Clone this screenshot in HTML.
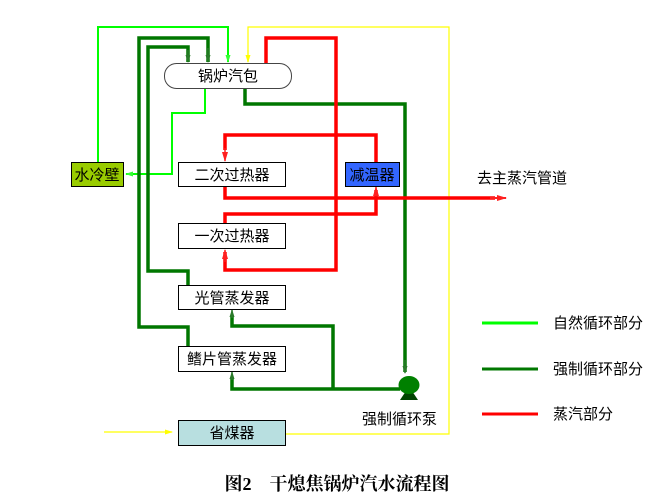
<!DOCTYPE html>
<html><head><meta charset="utf-8"><style>
body{margin:0;background:#fff}
svg{display:block}
text{font-family:"Liberation Sans","Noto Sans CJK SC",sans-serif;font-size:15px;fill:#000}
</style></head><body>
<svg width="672" height="499" viewBox="0 0 672 499" xmlns="http://www.w3.org/2000/svg">
<defs>
<marker id="ag" markerWidth="8" markerHeight="8" refX="7" refY="4" orient="auto" markerUnits="userSpaceOnUse"><path d="M0,1.5 L8,4 L0,6.5Z" fill="#33ff33"/></marker>
<marker id="ad" markerWidth="8" markerHeight="8" refX="7" refY="4" orient="auto" markerUnits="userSpaceOnUse"><path d="M0,1.5 L8,4 L0,6.5Z" fill="#2a7a2a"/></marker>
<marker id="ar" markerWidth="10" markerHeight="8" refX="9" refY="4" orient="auto" markerUnits="userSpaceOnUse"><path d="M0,1 L10,4 L0,7Z" fill="#ff2020"/></marker>
<marker id="ay" markerWidth="8" markerHeight="8" refX="7" refY="4" orient="auto" markerUnits="userSpaceOnUse"><path d="M0,1.5 L8,4 L0,6.5Z" fill="#ffff00"/></marker>
</defs>
<g fill="none">
<polyline points="248,62 248,27 449,27 449,434 285,434" stroke="#ffff00" stroke-width="1.2"/>
<line x1="248" y1="50" x2="248" y2="62" stroke="#ffff00" stroke-width="1.2" marker-end="url(#ay)"/>
<line x1="104" y1="432" x2="172" y2="432" stroke="#ffff00" stroke-width="1.2" marker-end="url(#ay)"/>
<polyline points="98,162 98,27 228,27 228,62" stroke="#00ff00" stroke-width="2" marker-end="url(#ag)"/>
<polyline points="205,88 205,113 172,113 172,174 126,174" stroke="#00ff00" stroke-width="2" marker-end="url(#ag)"/>
<polyline points="188,348 188,327 139,327 139,38 208,38 208,62" stroke="#007700" stroke-width="3.5"/>
<polyline points="188,286 188,271 148,271 148,47 188,47 188,62" stroke="#007700" stroke-width="3.5"/>
<line x1="208" y1="48" x2="208" y2="62" stroke="#2a7a2a" stroke-width="1.5" marker-end="url(#ad)"/>
<line x1="188" y1="50" x2="188" y2="62" stroke="#2a7a2a" stroke-width="1.5" marker-end="url(#ad)"/>
<polyline points="245,88 245,104 405,104 405,372" stroke="#007700" stroke-width="3.5"/>
<line x1="405" y1="360" x2="405" y2="373" stroke="#2a7a2a" stroke-width="1.5" marker-end="url(#ad)"/>
<polyline points="400,389 232,389 232,378" stroke="#007700" stroke-width="3.5"/>
<line x1="232" y1="380" x2="232" y2="372" stroke="#2a7a2a" stroke-width="1.5" marker-end="url(#ad)"/>
<polyline points="333,389 333,326 232,326 232,316" stroke="#007700" stroke-width="3.5"/>
<line x1="232" y1="318" x2="232" y2="310" stroke="#2a7a2a" stroke-width="1.5" marker-end="url(#ad)"/>
<polyline points="266,63 266,38 336,38 336,270 225,270 225,252" stroke="#ff0000" stroke-width="3.5"/>
<line x1="225" y1="262" x2="225" y2="250" stroke="#ff2020" stroke-width="1.5" marker-end="url(#ar)"/>
<polyline points="225,223 225,214 376,214 376,190" stroke="#ff0000" stroke-width="3.5"/>
<line x1="376" y1="198" x2="376" y2="187" stroke="#ff2020" stroke-width="1.5" marker-end="url(#ar)"/>
<polyline points="376,162 376,135 225,135 225,150" stroke="#ff0000" stroke-width="3.5"/>
<line x1="225" y1="148" x2="225" y2="161" stroke="#ff2020" stroke-width="1.5" marker-end="url(#ar)"/>
<polyline points="225,186 225,198 495,198" stroke="#ff0000" stroke-width="3.5"/>
<line x1="490" y1="198" x2="506" y2="198" stroke="#ff2020" stroke-width="2" marker-end="url(#ar)"/>
</g>
<rect x="164.5" y="63.5" width="127" height="25" rx="12" fill="#fff" stroke="#444"/>
<text x="228" y="81" text-anchor="middle">锅炉汽包</text>
<rect x="71.5" y="162.5" width="52" height="24" fill="#99cc00" stroke="#000"/>
<text x="97" y="180" text-anchor="middle">水冷壁</text>
<rect x="178.5" y="162.5" width="107" height="24" fill="#fff" stroke="#000"/>
<text x="232" y="180" text-anchor="middle">二次过热器</text>
<rect x="345.5" y="162.5" width="54" height="24" fill="#3366ff" stroke="#000"/>
<text x="372" y="180" text-anchor="middle">减温器</text>
<rect x="178.5" y="223.5" width="107" height="25" fill="#fff" stroke="#000"/>
<text x="232" y="241" text-anchor="middle">一次过热器</text>
<rect x="178.5" y="285.5" width="107" height="24" fill="#fff" stroke="#000"/>
<text x="232" y="303" text-anchor="middle">光管蒸发器</text>
<rect x="178.5" y="346.5" width="107" height="25" fill="#fff" stroke="#000"/>
<text x="232" y="364" text-anchor="middle">鳍片管蒸发器</text>
<rect x="178.5" y="420.5" width="107" height="25" fill="#b8dfe0" stroke="#000"/>
<text x="232" y="438" text-anchor="middle">省煤器</text>
<path d="M400,400 L418,400 L412,391 L406,391Z" fill="#004400"/>
<ellipse cx="409" cy="385" rx="10.5" ry="9" fill="#008000"/>
<text x="362" y="424">强制循环泵</text>
<text x="477" y="183">去主蒸汽管道</text>
<line x1="482" y1="323" x2="538" y2="323" stroke="#00ff00" stroke-width="3"/>
<line x1="482" y1="369" x2="538" y2="369" stroke="#007700" stroke-width="3"/>
<line x1="482" y1="414" x2="538" y2="414" stroke="#ff0000" stroke-width="3"/>
<text x="553" y="328">自然循环部分</text>
<text x="553" y="374">强制循环部分</text>
<text x="553" y="419">蒸汽部分</text>
<text x="337" y="490" text-anchor="middle" style="font-family:'Liberation Serif','Noto Serif CJK SC',serif;font-weight:bold;font-size:18px">图2　干熄焦锅炉汽水流程图</text>
</svg>
</body></html>
